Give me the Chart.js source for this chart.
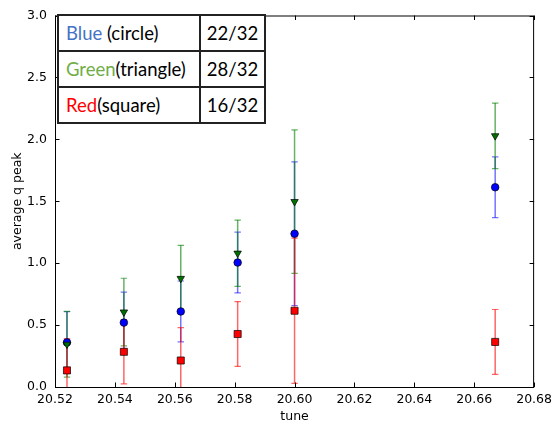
<!DOCTYPE html>
<html>
<head>
<meta charset="utf-8">
<script src="https://cdn.jsdelivr.net/npm/chart.js@4.4.0/dist/chart.umd.min.js"></script>
<style>
  html, body { margin: 0; padding: 0; background: #fff; }
  #wrap { position: relative; width: 557px; height: 423px; }
  #tbl {
    position: absolute; left: 57px; top: 14px;
    width: 207px; height: 102px;
    border-collapse: collapse; table-layout: fixed;
    background: #fff;
    font-family: Lato, "Open Sans", sans-serif; font-size: 18.5px; color: #000;
  }
  #tbl td { border: 2px solid #222; padding: 0 0 0 7px; height: 34px; white-space: nowrap; }
  #tbl td.n { text-align: center; padding: 0; }
</style>
</head>
<body>
<div id="wrap">
  <canvas id="c" width="557" height="423"></canvas>
  <table id="tbl">
    <colgroup><col style="width:142px"><col style="width:65px"></colgroup>
    <tr><td><span style="color:#4472C4">Blue</span> (circle)</td><td class="n">22/32</td></tr>
    <tr><td><span style="color:#70AD47">Green</span>(triangle)</td><td class="n">28/32</td></tr>
    <tr><td><span style="color:#FF0000">Red</span>(square)</td><td class="n">16/32</td></tr>
  </table>
</div>
<script>
const tunes = [20.524, 20.543, 20.562, 20.581, 20.600, 20.667];
const blueVals = [0.36, 0.52, 0.61, 1.005, 1.238, 1.613];
const blueErr = [0.248, 0.246, 0.246, 0.245, 0.58, 0.245];
const greenVals = [0.345, 0.605, 0.876, 1.08, 1.497, 2.028];
const greenErr = [0.265, 0.273, 0.268, 0.268, 0.579, 0.265];
const redVals = [0.134, 0.284, 0.214, 0.428, 0.616, 0.364];
const redErr = [0.256, 0.258, 0.265, 0.262, 0.586, 0.262];
const xTicks = [20.52, 20.54, 20.56, 20.58, 20.60, 20.62, 20.64, 20.66, 20.68];
const yTicks = [0.0, 0.5, 1.0, 1.5, 2.0, 2.5, 3.0];

function pts(vals) { return vals.map((v, i) => ({ x: tunes[i], y: v })); }
function errPts(vals, errs) {
  const out = [];
  vals.forEach((v, i) => {
    out.push({ x: tunes[i], y: v - errs[i] });
    out.push({ x: tunes[i], y: v + errs[i] });
    out.push({ x: tunes[i], y: null });
  });
  return out;
}
function errSet(vals, errs, color, order) {
  return {
    data: errPts(vals, errs), showLine: true, spanGaps: false,
    borderColor: color, borderWidth: 1.5,
    pointStyle: 'line', pointRadius: 3.2, pointBorderColor: color, pointBorderWidth: 1.2,
    pointHoverRadius: 3.2, order: order, clip: 0
  };
}
function markSet(vals, style, bg, radius, rotation, order) {
  return {
    data: pts(vals), showLine: false,
    pointStyle: style, pointRadius: radius, pointHoverRadius: radius,
    pointRotation: rotation, backgroundColor: bg, borderColor: '#000',
    pointBackgroundColor: bg, pointBorderColor: '#000', pointBorderWidth: 0.7,
    order: order, clip: 0
  };
}

const framePlugin = {
  id: 'frame',
  afterDatasetsDraw(chart) {
    const { ctx, chartArea: a, scales: { x, y } } = chart;
    const L = 4.5;
    ctx.save();
    ctx.strokeStyle = '#000';
    ctx.lineWidth = 1;
    ctx.beginPath();
    x.ticks.forEach(t => {
      const px = Math.round(x.getPixelForValue(t.value)) + 0.5;
      ctx.moveTo(px, a.bottom); ctx.lineTo(px, a.bottom - L);
      ctx.moveTo(px, a.top); ctx.lineTo(px, a.top + L);
    });
    y.ticks.forEach(t => {
      const py = Math.round(y.getPixelForValue(t.value)) + 0.5;
      ctx.moveTo(a.left, py); ctx.lineTo(a.left + L, py);
      ctx.moveTo(a.right, py); ctx.lineTo(a.right - L, py);
    });
    ctx.stroke();
    ctx.strokeRect(a.left + 0.5, a.top + 0.5, a.right - a.left - 1, a.bottom - a.top);
    ctx.restore();
  }
};

const tickFont = { family: 'DejaVu Sans', size: 12.5 };
new Chart(document.getElementById('c'), {
  type: 'scatter',
  data: {
    datasets: [
      errSet(blueVals, blueErr, 'rgba(0,0,255,0.55)', 6),
      errSet(greenVals, greenErr, 'rgba(0,128,0,0.6)', 5),
      errSet(redVals, redErr, 'rgba(255,0,0,0.6)', 4),
      markSet(blueVals, 'circle', '#0000ff', 3.8, 0, 3),
      markSet(greenVals, 'triangle', '#007000', 4.3, 180, 2),
      markSet(redVals, 'rect', '#ff0000', 5, 0, 1)
    ]
  },
  plugins: [framePlugin],
  options: {
    responsive: false, animation: false,
    layout: { padding: { top: 14, right: 19, left: 0, bottom: 0 } },
    plugins: { legend: { display: false }, tooltip: { enabled: false } },
    scales: {
      x: {
        type: 'linear', min: 20.52, max: 20.68,
        afterBuildTicks: s => { s.ticks = xTicks.map(v => ({ value: v })); },
        afterFit: s => { s.height = 36; },
        grid: { display: false, drawTicks: false }, border: { display: false },
        ticks: { color: '#000', font: tickFont, padding: 5, maxRotation: 0, autoSkip: false,
                 callback: v => Number(v).toFixed(2) },
        title: { display: true, text: 'tune', color: '#000', font: { family: 'DejaVu Sans', size: 12.5, lineHeight: 1 }, padding: { top: 0, bottom: 0 } }
      },
      y: {
        type: 'linear', min: 0, max: 3,
        afterBuildTicks: s => { s.ticks = yTicks.map(v => ({ value: v })); },
        afterFit: s => { s.width = 55; },
        grid: { display: false, drawTicks: false }, border: { display: false },
        ticks: { color: '#000', font: tickFont, padding: 8, autoSkip: false,
                 callback: v => Number(v).toFixed(1) },
        title: { display: true, text: 'average q peak', color: '#000', font: { family: 'DejaVu Sans', size: 12.5 }, padding: { top: 10, bottom: 0 } }
      }
    }
  }
});
</script>
</body>
</html>
